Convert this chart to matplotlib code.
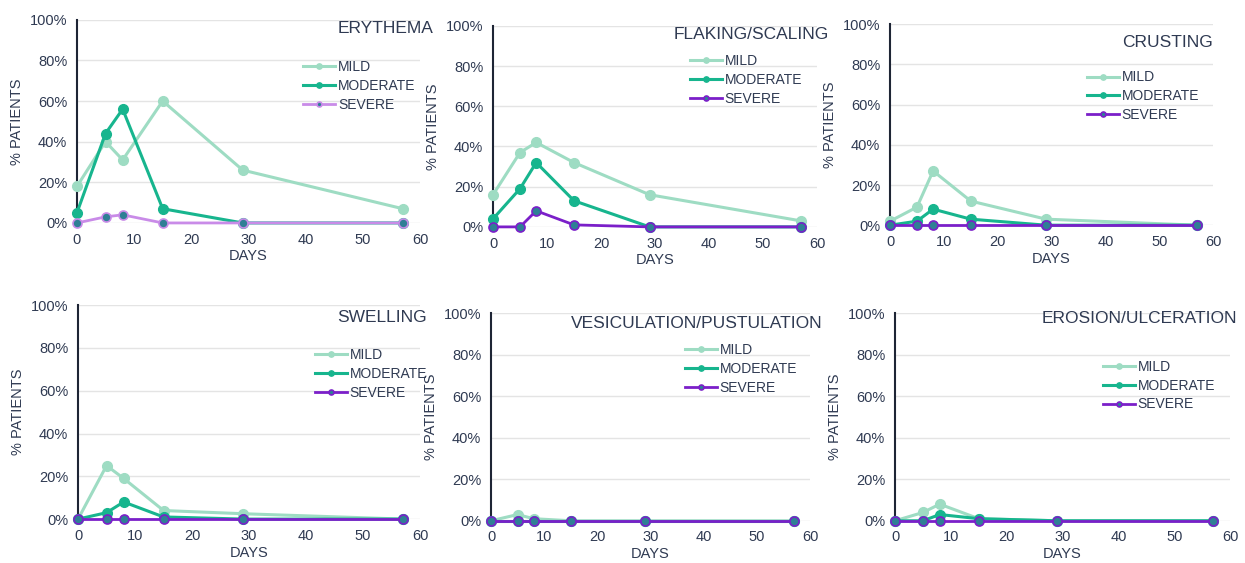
import matplotlib
matplotlib.use("Agg")
import matplotlib.pyplot as plt
from matplotlib.ticker import PercentFormatter

plt.rcParams['font.family'] = ['Liberation Sans', 'DejaVu Sans']

days = [0, 5, 8, 15, 29, 57]
levels = ["MILD", "MODERATE", "SEVERE"]

erythema_mild = [18, 40, 31, 60, 26, 7]
erythema_moderate = [5, 44, 56, 7, 0, 0]
erythema_severe = [0, 3, 4, 0, 0, 0]

flaking_mild = [16, 37, 42, 32, 16, 3]
flaking_moderate = [4, 19, 32, 13, 0, 0]
flaking_severe = [0, 0, 8, 1, 0, 0]

crusting_mild = [2, 9, 27, 12, 3, 0]
crusting_moderate = [0, 2, 8, 3, 0, 0]
crusting_severe = [0, 0, 0, 0, 0, 0]

swelling_mild = [0, 25, 19, 4, 2.5, 0]
swelling_moderate = [0, 3, 8, 1, 0, 0]
swelling_severe = [0, 0, 0, 0, 0, 0]

vesic_mild = [0, 3, 1, 0, 0, 0]
vesic_moderate = [0, 0, 0, 0, 0, 0]
vesic_severe = [0, 0, 0, 0, 0, 0]

erosion_mild = [0, 4, 8, 1, 0, 0]
erosion_moderate = [0, 0, 3, 1, 0, 0]
erosion_severe = [0, 0, 0, 0, 0, 0]

titles = ["ERYTHEMA", "FLAKING/SCALING", "CRUSTING",
          "SWELLING", "VESICULATION/PUSTULATION", "EROSION/ULCERATION"]
series = [
    (erythema_mild, erythema_moderate, erythema_severe),
    (flaking_mild, flaking_moderate, flaking_severe),
    (crusting_mild, crusting_moderate, crusting_severe),
    (swelling_mild, swelling_moderate, swelling_severe),
    (vesic_mild, vesic_moderate, vesic_severe),
    (erosion_mild, erosion_moderate, erosion_severe),
]

# axes rectangles (left, bottom, width, height) in figure fractions
rects = [
    (0.0618, 0.604, 0.2755, 0.361),
    (0.396, 0.597, 0.2602, 0.357),
    (0.7149, 0.600, 0.2594, 0.357),
    (0.0627, 0.078, 0.2747, 0.380),
    (0.3944, 0.075, 0.2562, 0.369),
    (0.7189, 0.075, 0.2691, 0.369),
]
title_pos = [(1.04, 0.955), (1.037, 0.955), (1.0, 0.91),
             (1.02, 0.944), (1.04, 0.95), (1.02, 0.976)]
legend_pos = [(0.66, 0.80), (0.608, 0.86), (0.61, 0.77),
              (0.693, 0.80), (0.608, 0.856), (0.62, 0.775)]

txt = "#2f3a52"
c_mild = "#9edcc3"
c_mod = "#17b58e"
c_sev = "#7b1fc9"
c_sev_light = "#c98be8"
c_sev_face = "#2f7f95"

fig = plt.figure(figsize=(12.45, 5.63), dpi=100)

for i in range(6):
    ax = fig.add_axes(rects[i])
    mild, mod, sev = series[i]
    sev_col = c_sev_light if i == 0 else c_sev
    ax.plot(days, mild, color=c_mild, lw=2.2, marker="o", ms=7, label=levels[0],
            zorder=3, clip_on=False)
    ax.plot(days, mod, color=c_mod, lw=2.2, marker="o", ms=7, label=levels[1],
            zorder=4, clip_on=False)
    ax.plot(days, sev, color=sev_col, lw=2.0, marker="o", ms=6.5,
            mfc=c_sev_face, mec=sev_col, mew=1.2, label=levels[2], zorder=5, clip_on=False)

    ax.set_xlim(0, 60)
    ax.set_ylim(0, 100)
    ax.set_xticks(range(0, 61, 10))
    ax.set_yticks(range(0, 101, 20))
    ax.yaxis.set_major_formatter(PercentFormatter(decimals=0))
    ax.grid(axis="y", color="#e4e4e4", lw=1)
    ax.set_axisbelow(True)
    for s in ["top", "right", "bottom"]:
        ax.spines[s].set_visible(False)
    ax.spines["left"].set_color("#1e2535")
    ax.spines["left"].set_linewidth(1.5)
    ax.tick_params(length=0, labelsize=10.5, colors=txt, pad=7)
    ax.set_xlabel("DAYS", fontsize=10.5, color=txt, labelpad=2)
    ax.set_ylabel("% PATIENTS", fontsize=10.5, color=txt, labelpad=4)

    ax.text(title_pos[i][0], title_pos[i][1], titles[i], transform=ax.transAxes,
            ha="right", va="center", fontsize=12.5, color=txt)
    leg = ax.legend(loc="upper left", bbox_to_anchor=legend_pos[i], frameon=False,
                    fontsize=10, handlelength=2.3, handletextpad=0.2, markerscale=0.55,
                    labelspacing=0.35, borderpad=0, borderaxespad=0)
    for t in leg.get_texts():
        t.set_color(txt)

fig.savefig("out.png", dpi=100)
